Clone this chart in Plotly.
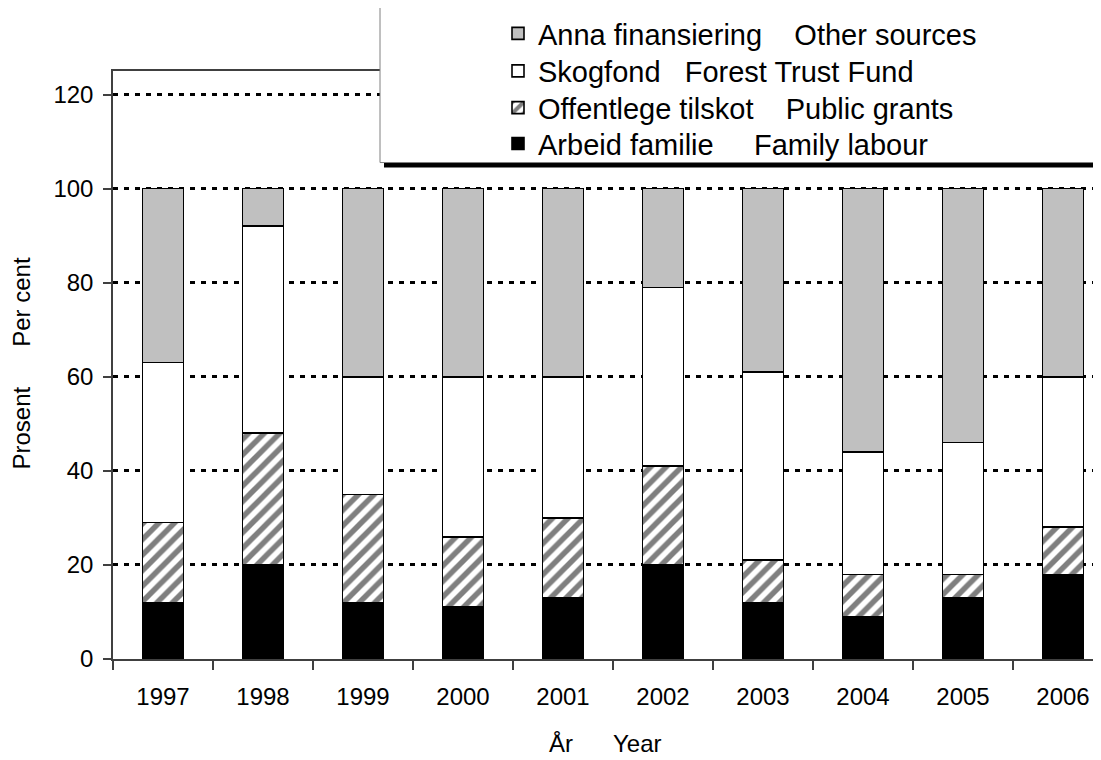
import plotly.graph_objects as go

# ---- data (percent) ----
years = ["1997", "1998", "1999", "2000", "2001", "2002", "2003", "2004", "2005", "2006"]
family_labour = [12, 20, 12, 11, 13, 20, 12, 9, 13, 18]
public_grants = [17, 28, 23, 15, 17, 21, 9, 9, 5, 10]
forest_trust_fund = [34, 44, 25, 34, 30, 38, 40, 26, 28, 32]
other_sources = [37, 8, 40, 40, 40, 21, 39, 56, 54, 40]

names = [
    "Arbeid familie\u00a0\u00a0\u00a0\u00a0\u00a0Family labour",
    "Offentlege tilskot\u00a0\u00a0\u00a0\u00a0Public grants",
    "Skogfond\u00a0\u00a0\u00a0Forest Trust Fund",
    "Anna finansiering\u00a0\u00a0\u00a0\u00a0Other sources",
]

FONT = "Liberation Sans, Arial, sans-serif"
# page body has an 8px margin; figure sized so it ends at the window edge
OFF = 8
W, H = 1101 - OFF, 760 - OFF
SL, ST, SB = 113, 68, 659          # plot area in window pixels
PW = W + OFF - SL
PH = SB - ST


def px2x(sx):
    return (sx - SL) / PW


def px2y(sy):
    return (SB - sy) / PH


line = dict(color="black", width=1.6)
fig = go.Figure()
fig.add_trace(go.Bar(x=years, y=family_labour, name=names[0], width=0.41, legend="legend4",
                     marker=dict(color="black", line=line)))
fig.add_trace(go.Bar(x=years, y=public_grants, name=names[1], width=0.41, legend="legend3",
                     marker=dict(color="white", line=line,
                                 pattern=dict(shape="/", fgcolor="black", bgcolor="white",
                                              size=11, solidity=0.5))))
fig.add_trace(go.Bar(x=years, y=forest_trust_fund, name=names[2], width=0.41, legend="legend2",
                     marker=dict(color="white", line=line)))
fig.add_trace(go.Bar(x=years, y=other_sources, name=names[3], width=0.41, legend="legend",
                     marker=dict(color="#C0C0C0", line=line)))

shapes = [
    # legend shadow
    dict(type="rect", xref="paper", yref="paper",
         x0=px2x(384), x1=px2x(1120), y0=px2y(165), y1=px2y(-10),
         fillcolor="black", line=dict(width=0), layer="above"),
    # legend box
    dict(type="rect", xref="paper", yref="paper",
         x0=px2x(380), x1=px2x(1115), y0=px2y(160), y1=px2y(-10),
         fillcolor="white", line=dict(color="#808080", width=1), layer="above"),
]

annotations = [
    dict(text="År\u00a0\u00a0\u00a0\u00a0\u00a0\u00a0Year", xref="paper", yref="paper",
         x=px2x(605), y=px2y(744), xanchor="center", yanchor="middle",
         showarrow=False, font=dict(family=FONT, size=24, color="black")),
    dict(text="Prosent\u00a0\u00a0\u00a0\u00a0\u00a0\u00a0Per cent", xref="paper", yref="paper",
         x=px2x(22), y=px2y(362), xanchor="center", yanchor="middle", textangle=-90,
         showarrow=False, font=dict(family=FONT, size=24, color="black")),
]


def leg(row_y):
    return dict(x=px2x(498), y=px2y(row_y), xanchor="left", yanchor="middle",
                bgcolor="rgba(0,0,0,0)", borderwidth=0,
                font=dict(family=FONT, size=29, color="black"))


fig.update_layout(
    width=W, height=H,
    margin=dict(l=SL - OFF, r=0, t=ST - OFF, b=H + OFF - SB, pad=0),
    paper_bgcolor="white", plot_bgcolor="white",
    barmode="stack",
    font=dict(family=FONT, size=24, color="black"),
    showlegend=True,
    legend=leg(30),
    legend2=leg(68),
    legend3=leg(105),
    legend4=leg(141),
    shapes=shapes,
    annotations=annotations,
    xaxis=dict(type="category", range=[-0.5, 9.38], tickson="boundaries",
               showline=True, linecolor="#404040", linewidth=1.5, mirror=True,
               ticks="outside", ticklen=9, tickwidth=1.5, tickcolor="#404040",
               showgrid=False, ticklabelstandoff=15,
               tickfont=dict(family=FONT, size=24, color="black")),
    yaxis=dict(range=[0, 125], tickvals=[0, 20, 40, 60, 80, 100, 120],
               showline=True, linecolor="#404040", linewidth=1.5,
               ticks="outside", ticklen=8, tickwidth=1.5, tickcolor="#404040",
               showgrid=True, gridcolor="black", gridwidth=3, griddash="5px,6px",
               zeroline=False, ticklabelstandoff=5,
               tickfont=dict(family=FONT, size=24, color="black")),
)

fig.write_html("out.html")
